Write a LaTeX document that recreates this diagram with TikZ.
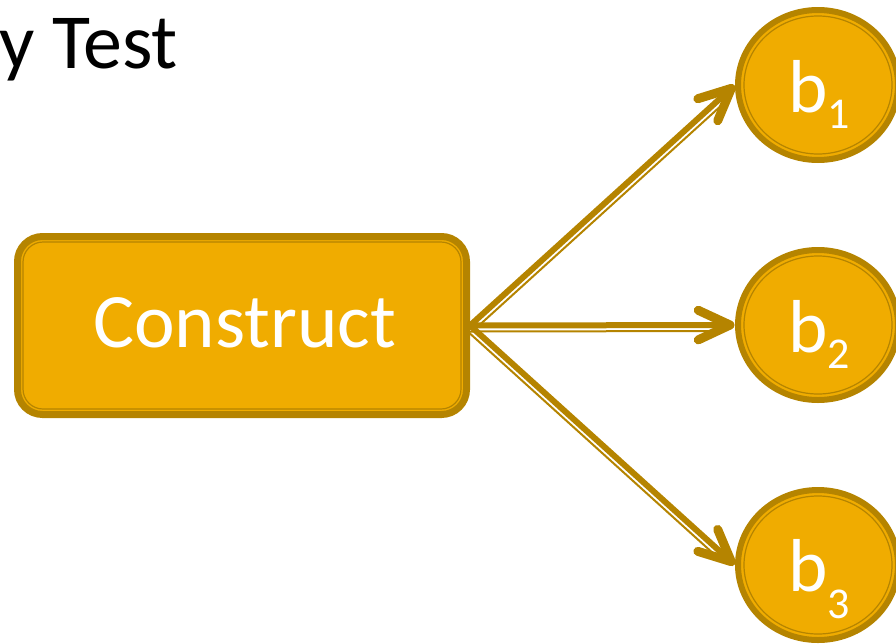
\documentclass[tikz,border=0pt]{standalone}
\usepackage{fontspec}
\setmainfont{Carlito}
\usetikzlibrary{calc,shapes.geometric}
\definecolor{gold}{HTML}{F0AC00}
\definecolor{dgold}{HTML}{B58400}
\newcommand{\subnum}[2]{\raisebox{-#1pt}{\fontsize{44}{48}\selectfont #2}}
\tikzset{
  bignum/.style={ellipse, draw=dgold, fill=gold, line width=6pt, minimum width=160pt, minimum height=150pt, inner sep=0pt},
  innerell/.style={draw=dgold, line width=1.2pt},
  blabel/.style={anchor=base west, inner sep=0pt, text=white, font=\fontsize{75}{80}\selectfont},
  mainconn/.style={draw=dgold, line width=6pt},
  thinconn/.style={draw=dgold, line width=2pt, shorten >=18pt},
  tipconn/.style={draw=dgold, line width=9pt, line cap=round, line join=round}
}
\begin{document}
\begin{tikzpicture}[x=1pt,y=-1pt]
\useasboundingbox (0,0) rectangle (896,643);
\node[anchor=base west, inner sep=0pt, font=\fontsize{78}{80}\selectfont] (title) at (-1,68) {y Test};

% Construct box
\node[draw=dgold, fill=gold, line width=7pt, rounded corners=25pt, minimum width=449pt, minimum height=178pt, inner sep=0pt] (c) at (242,325.5) {};
\node[draw=dgold, line width=1.2pt, rounded corners=20pt, minimum width=438pt, minimum height=167pt, inner sep=0pt] (ci) at (242,325.5) {};
\node[anchor=base west, inner sep=0pt, text=white, font=\fontsize{77}{80}\selectfont] (ct) at (93,347) {Construct};

% ellipses
\node[bignum] (b1) at (818,85) {};
\node[bignum] (b2) at (818,325) {};
\node[bignum] (b3) at (818,565) {};
\draw[innerell] (b1.center) ellipse [x radius=74pt, y radius=69pt];
\draw[innerell] (b2.center) ellipse [x radius=74pt, y radius=69pt];
\draw[innerell] (b3.center) ellipse [x radius=74pt, y radius=69pt];
\node[blabel] (l1) at (788,112) {b\subnum{16}{1}};
\node[blabel] (l2) at (788,352) {b\subnum{16}{2}};
\node[blabel] (l3) at (788,591) {b\subnum{27}{3}};

% connectors
\foreach \t in {b1,b2,b3}{
  \coordinate (T\t) at ($(\t.west)!5pt!(c.east)$);
  \draw[mainconn] (c.east) -- (T\t);
  \draw[thinconn] ($(c.east)!6pt!-90:(\t.west)$) -- ($(\t.west)!6pt!90:(c.east)$);
  \draw[tipconn] ($(T\t)!35pt!25:(c.east)$) -- (T\t) -- ($(T\t)!35pt!-25:(c.east)$);
}
\end{tikzpicture}
\end{document}
